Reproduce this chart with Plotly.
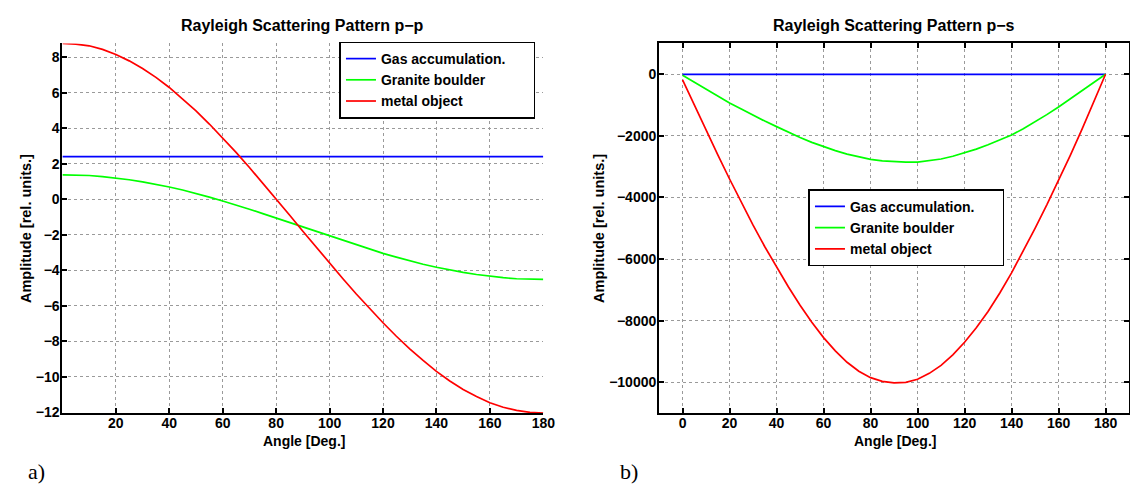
import plotly.graph_objects as go

# ---------------- data ----------------
angles = [0, 5, 10, 15, 20, 25, 30, 35, 40, 45, 50, 55, 60, 65, 70, 75, 80, 85, 90,
          95, 100, 105, 110, 115, 120, 125, 130, 135, 140, 145, 150, 155, 160, 165, 170, 175, 180]
gas_angles = [0, 180]

series_names = ["Gas accumulation.", "Granite boulder", "metal object"]
series_colors = ["#0000ff", "#00ff00", "#ff0000"]

# a) p-p pattern
pp_gas = [2.4, 2.4]
pp_granite = [1.38, 1.37, 1.34, 1.28, 1.20, 1.10, 0.98, 0.85, 0.69, 0.52, 0.33, 0.12, -0.10,
              -0.32, -0.56, -0.81, -1.06, -1.31, -1.57, -1.83, -2.08, -2.33, -2.58, -2.82, -3.05,
              -3.26, -3.47, -3.66, -3.83, -3.99, -4.12, -4.24, -4.34, -4.42, -4.48, -4.51, -4.52]
pp_metal = [8.78, 8.74, 8.65, 8.45, 8.16, 7.80, 7.37, 6.87, 6.30, 5.66, 4.98, 4.24, 3.46,
            2.64, 1.79, 0.91, 0.01, -0.89, -1.80, -2.71, -3.60, -4.48, -5.34, -6.17, -6.96,
            -7.72, -8.43, -9.08, -9.70, -10.24, -10.72, -11.12, -11.47, -11.72, -11.90, -12.01, -12.05]

# b) p-s pattern
ps_gas = [0, 0]
ps_granite = [-30, -260, -480, -710, -930, -1130, -1330, -1520, -1700, -1880, -2050, -2210, -2350,
              -2480, -2590, -2680, -2760, -2810, -2840, -2855, -2850, -2810, -2750, -2660, -2550,
              -2430, -2290, -2140, -1970, -1770, -1550, -1310, -1060, -800, -540, -270, 0]
ps_metal = [-180, -1000, -1800, -2620, -3400, -4170, -4900, -5600, -6250, -6900, -7500, -8050, -8550,
            -8980, -9350, -9640, -9850, -9970, -10020, -10000, -9900, -9710, -9450, -9110, -8700,
            -8230, -7700, -7100, -6450, -5750, -5000, -4240, -3450, -2630, -1780, -900, 0]

pp_x_ticks = [20, 40, 60, 80, 100, 120, 140, 160, 180]
pp_y_ticks = [-12, -10, -8, -6, -4, -2, 0, 2, 4, 6, 8]
ps_x_ticks = [0, 20, 40, 60, 80, 100, 120, 140, 160, 180]
ps_y_ticks = [-10000, -8000, -6000, -4000, -2000, 0]

titles = ["Rayleigh Scattering Pattern p\u2212p", "Rayleigh Scattering Pattern p\u2212s"]
x_title = "Angle [Deg.]"
y_title = "Amplitude [rel. units.]"
panel_labels = ["a)", "b)"]

# ---------------- figure ----------------
W, H = 1138, 486
FONT = "Liberation Sans, Arial, Helvetica, sans-serif"
PAD = "\u00a0" * 6  # widens the legend box like the reference's


def tick_text(vals):
    return ["<b>" + str(v).replace("-", "\u2212") + "</b>" for v in vals]


def legend_name(i, name):
    return name + PAD if i == 0 else name


fig = go.Figure()

pp_x = [gas_angles, angles, angles]
for i, (xs, ys, name, col) in enumerate(zip(pp_x, [pp_gas, pp_granite, pp_metal],
                                            series_names, series_colors)):
    fig.add_trace(go.Scatter(x=xs, y=ys, mode="lines", name=legend_name(i, name),
                             line=dict(color=col, width=1.7),
                             xaxis="x", yaxis="y", legend="legend"))
for i, (xs, ys, name, col) in enumerate(zip(pp_x, [ps_gas, ps_granite, ps_metal],
                                            series_names, series_colors)):
    fig.add_trace(go.Scatter(x=xs, y=ys, mode="lines", name=legend_name(i, name),
                             line=dict(color=col, width=1.7),
                             xaxis="x2", yaxis="y2", legend="legend2"))


def px_x(p):
    return p / W


def px_y(p):
    return 1 - p / H


tickfont = dict(family=FONT, size=14, color="black", weight="bold")
common = dict(showline=True, linecolor="black", linewidth=2, ticks="inside", ticklen=5,
              tickwidth=1.5, tickcolor="black", showgrid=True, gridcolor="#9a9a9a",
              griddash="dot", gridwidth=1, zeroline=False, tickfont=tickfont, tickmode="array")

legend_common = dict(xanchor="left", yanchor="top", bgcolor="white", bordercolor="black",
                     borderwidth=1.5, itemwidth=30, tracegroupgap=0,
                     font=dict(family=FONT, size=14, color="black", weight="bold"))

fig.update_layout(
    width=W, height=H,
    margin=dict(l=0, r=0, t=0, b=0),
    paper_bgcolor="white", plot_bgcolor="white",
    xaxis=dict(domain=[px_x(55), px_x(541)], range=[0, 180],
               tickvals=pp_x_ticks, ticktext=tick_text(pp_x_ticks), ticklabelstandoff=-4,
               anchor="y", mirror=False, **common),
    yaxis=dict(domain=[px_y(411), px_y(36)], range=[-12.05, 8.78],
               tickvals=pp_y_ticks, ticktext=tick_text(pp_y_ticks), ticklabelstandoff=-2,
               anchor="x", mirror=False, **common),
    xaxis2=dict(domain=[px_x(658), px_x(1133)], range=[-10, 190],
                tickvals=ps_x_ticks, ticktext=tick_text(ps_x_ticks), ticklabelstandoff=-4,
                anchor="y2", mirror="ticks", **common),
    yaxis2=dict(domain=[px_y(411), px_y(36)], range=[-11000, 1000],
                tickvals=ps_y_ticks, ticktext=tick_text(ps_y_ticks), ticklabelstandoff=-2,
                anchor="x2", mirror="ticks", **common),
    legend=dict(x=px_x(335), y=px_y(34), **legend_common),
    legend2=dict(x=px_x(809), y=px_y(184), **legend_common),
)

annotations = []
for t, cx in zip(titles, [298, 895.5]):
    annotations.append(dict(text="<b>" + t + "</b>", x=px_x(cx), y=px_y(18), xref="paper", yref="paper",
                            xanchor="center", yanchor="middle", showarrow=False,
                            font=dict(family=FONT, size=16, color="black")))
for cx in [299, 896]:
    annotations.append(dict(text="<b>" + x_title + "</b>", x=px_x(cx), y=px_y(439), xref="paper",
                            yref="paper", xanchor="center", yanchor="middle", showarrow=False,
                            font=dict(family=FONT, size=14, color="black")))
for cx in [18, 598]:
    annotations.append(dict(text="<b>" + y_title + "</b>", x=px_x(cx), y=px_y(223.5), xref="paper",
                            yref="paper", xanchor="center", yanchor="middle", showarrow=False,
                            textangle=-90, font=dict(family=FONT, size=14.5, color="black")))
for lab, lx in zip(panel_labels, [18, 617]):
    annotations.append(dict(text=lab, x=px_x(lx), y=px_y(470), xref="paper", yref="paper",
                            xanchor="left", yanchor="middle", showarrow=False,
                            font=dict(family="Liberation Serif, Times New Roman, serif", size=22,
                                      color="black")))
fig.update_layout(annotations=annotations)

fig.write_html("out.html")
